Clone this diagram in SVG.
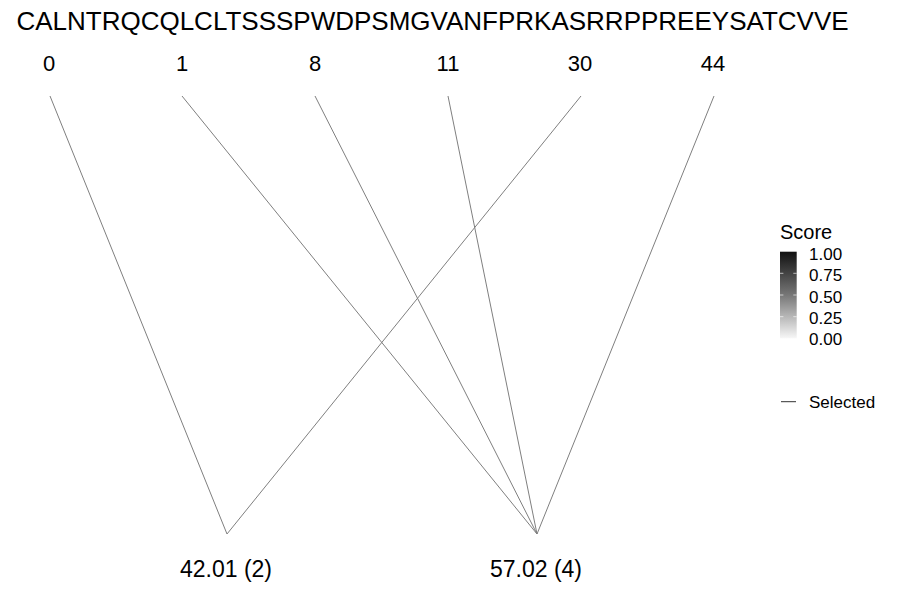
<svg xmlns="http://www.w3.org/2000/svg" width="900" height="600" viewBox="0 0 900 600">
<style>
text{font-family:"Liberation Sans",Arial,sans-serif;fill:#000}
.title{font-size:26px}
.lab{font-size:22px;text-anchor:middle}
.bl{font-size:23px;text-anchor:middle}
.conn line{stroke:#7f7f7f;stroke-width:1}
.leg{font-size:17px}
.tick{stroke:#ffffff;stroke-width:0.8;opacity:0.8}
</style>
<defs>
<linearGradient id="g" x1="0" y1="0" x2="0" y2="1">
<stop offset="0" stop-color="#111111"/>
<stop offset="0.5" stop-color="#777777"/>
<stop offset="1" stop-color="#f7f7f7"/>
</linearGradient>
</defs>
<rect width="900" height="600" fill="#ffffff"/>
<text class="title" x="432.5" y="30" text-anchor="middle">CALNTRQCQLCLTSSSPWDPSMGVANFPRKASRRPPREEYSATCVVE</text>
<g id="connectors" class="conn">
<line x1="50" y1="96" x2="227" y2="534"/>
<line x1="581" y1="96" x2="227" y2="534"/>
<line x1="182" y1="96" x2="537" y2="534"/>
<line x1="315" y1="96" x2="537" y2="534"/>
<line x1="448" y1="96" x2="537" y2="534"/>
<line x1="714" y1="96" x2="537" y2="534"/>
</g>
<g id="n0"><text class="lab" x="49" y="71">0</text></g>
<g id="n1"><text class="lab" x="182" y="71">1</text></g>
<g id="n8"><text class="lab" x="315" y="71">8</text></g>
<g id="n11"><text class="lab" x="448" y="71">11</text></g>
<g id="n30"><text class="lab" x="580" y="71">30</text></g>
<g id="n44"><text class="lab" x="713" y="71">44</text></g>
<g id="b1"><text class="bl" x="226" y="577">42.01 (2)</text></g>
<g id="b2"><text class="bl" x="536" y="577">57.02 (4)</text></g>
<g id="legend">
<text x="780" y="238.5" style="font-size:20px">Score</text>
<rect x="780" y="251.7" width="16.7" height="86.6" fill="url(#g)"/>
<line class="tick" x1="780" y1="273.3" x2="783.4" y2="273.3"/>
<line class="tick" x1="793.3" y1="273.3" x2="796.7" y2="273.3"/>
<line class="tick" x1="780" y1="295" x2="783.4" y2="295"/>
<line class="tick" x1="793.3" y1="295" x2="796.7" y2="295"/>
<line class="tick" x1="780" y1="316.7" x2="783.4" y2="316.7"/>
<line class="tick" x1="793.3" y1="316.7" x2="796.7" y2="316.7"/>
<text class="leg" x="809" y="259.5">1.00</text>
<text class="leg" x="809" y="281">0.75</text>
<text class="leg" x="809" y="302.5">0.50</text>
<text class="leg" x="809" y="324">0.25</text>
<text class="leg" x="809" y="345">0.00</text>
<line x1="781" y1="401.7" x2="796" y2="401.7" stroke="#333333" stroke-width="1"/>
<text class="leg" x="809" y="408">Selected</text>
</g>
</svg>
